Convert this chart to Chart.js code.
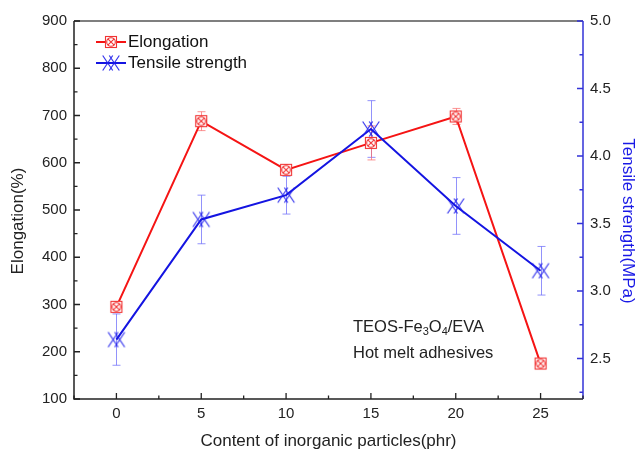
<!DOCTYPE html>
<html>
<head>
<meta charset="utf-8">
<script src="https://cdn.jsdelivr.net/npm/chart.js@4.4.1/dist/chart.umd.min.js"></script>
<style>
  html, body { margin: 0; padding: 0; background: #fff; }
  #wrap { width: 637px; height: 451px; }
</style>
</head>
<body>
<div id="wrap"><canvas id="myChart" width="637" height="451"></canvas></div>
<script>
// filler content (phr) and measured properties
const content = [0, 5, 10, 15, 20, 25];
const elongation = [295, 688, 585, 642, 698, 175];
const elongationErr = [6, 20, 9, 36, 17, 6];
const tensile = [2.64, 3.53, 3.71, 4.20, 3.63, 3.15];
const tensileErr = [0.19, 0.18, 0.14, 0.21, 0.21, 0.18];

// axis ticks
const xTicks = [0, 5, 10, 15, 20, 25];
const leftTicks = [100, 200, 300, 400, 500, 600, 700, 800, 900];
const rightTicks = [2.5, 3.0, 3.5, 4.0, 4.5, 5.0];

const RED = 'rgb(245,20,20)';
const BLUE = 'rgb(20,20,225)';
const FONT = '"Liberation Sans", Arial, sans-serif';

function squareMarker(color) {
  const c = document.createElement('canvas');
  c.width = 16; c.height = 16;
  const g = c.getContext('2d');
  g.fillStyle = '#fff';
  g.fillRect(2, 2, 12, 12);
  g.strokeStyle = color;
  g.lineWidth = 1.1;
  g.strokeRect(2.5, 2.5, 11, 11);
  g.beginPath(); g.arc(8, 8, 4.3, 0, Math.PI * 2); g.stroke();
  g.beginPath();
  g.moveTo(4.8, 4.8); g.lineTo(11.2, 11.2);
  g.moveTo(11.2, 4.8); g.lineTo(4.8, 11.2);
  g.stroke();
  return c;
}

// two overlapping crosses -> lattice look
function latticeMarker(color) {
  const c = document.createElement('canvas');
  c.width = 22; c.height = 20;
  const g = c.getContext('2d');
  g.strokeStyle = color;
  g.lineWidth = 1.2;
  g.beginPath();
  for (const dx of [-3.3, 3.3]) {
    g.moveTo(11 + dx - 5, 10 - 7.5); g.lineTo(11 + dx + 5, 10 + 7.5);
    g.moveTo(11 + dx + 5, 10 - 7.5); g.lineTo(11 + dx - 5, 10 + 7.5);
  }
  g.stroke();
  return c;
}

const redMarker = squareMarker('rgba(240,30,30,0.9)');
const blueMarker = latticeMarker('rgba(30,30,235,0.9)');

function fixedTicks(list) {
  return function(scale) { scale.ticks = list.map(v => ({ value: v })); };
}

// vertical error bars, drawn under the markers
const errorBars = {
  id: 'errorBars',
  beforeDatasetsDraw(chart) {
    const ctx = chart.ctx;
    chart.data.datasets.forEach((ds, i) => {
      const xs = chart.scales.x;
      const ys = chart.scales[ds.yAxisID];
      ctx.save();
      ctx.strokeStyle = ds.errColor;
      ctx.lineWidth = 1;
      ds.data.forEach((p, j) => {
        const x = Math.round(xs.getPixelForValue(p.x)) + 0.5;
        const y1 = ys.getPixelForValue(p.y + ds.err[j]);
        const y2 = ys.getPixelForValue(p.y - ds.err[j]);
        ctx.beginPath();
        ctx.moveTo(x, y1); ctx.lineTo(x, y2);
        ctx.moveTo(x - 4, y1); ctx.lineTo(x + 4, y1);
        ctx.moveTo(x - 4, y2); ctx.lineTo(x + 4, y2);
        ctx.stroke();
      });
      ctx.restore();
    });
  }
};

// box frame with inward major/minor ticks
function minorValues(list, min, max) {
  const step = list[1] - list[0];
  const out = [];
  for (let v = list[0] - step / 2; v <= max + 1e-9; v += step) {
    if (v >= min - 1e-9) out.push(v);
  }
  return out;
}

const axisFrame = {
  id: 'axisFrame',
  afterDatasetsDraw(chart) {
    const { ctx, chartArea: a, scales } = chart;
    ctx.save();
    ctx.lineWidth = 1.5;
    // top
    ctx.strokeStyle = '#555';
    ctx.beginPath(); ctx.moveTo(a.left, a.top); ctx.lineTo(a.right, a.top); ctx.stroke();
    // left + bottom
    ctx.strokeStyle = '#222';
    ctx.beginPath(); ctx.moveTo(a.left, a.top); ctx.lineTo(a.left, a.bottom); ctx.lineTo(a.right, a.bottom); ctx.stroke();
    // right (blue axis)
    ctx.strokeStyle = 'rgb(50,50,215)';
    ctx.beginPath(); ctx.moveTo(a.right, a.top); ctx.lineTo(a.right, a.bottom); ctx.stroke();

    ctx.lineWidth = 1.3;
    ctx.strokeStyle = '#222';
    ctx.beginPath();
    leftTicks.forEach(v => { const y = scales.y.getPixelForValue(v); ctx.moveTo(a.left, y); ctx.lineTo(a.left + 6, y); });
    minorValues(leftTicks, scales.y.min, scales.y.max).forEach(v => { const y = scales.y.getPixelForValue(v); ctx.moveTo(a.left, y); ctx.lineTo(a.left + 3.5, y); });
    xTicks.forEach(v => { const x = scales.x.getPixelForValue(v); ctx.moveTo(x, a.bottom); ctx.lineTo(x, a.bottom - 6); });
    minorValues(xTicks, scales.x.min, scales.x.max).forEach(v => { const x = scales.x.getPixelForValue(v); ctx.moveTo(x, a.bottom); ctx.lineTo(x, a.bottom - 3.5); });
    ctx.stroke();

    ctx.strokeStyle = 'rgb(50,50,215)';
    ctx.beginPath();
    rightTicks.forEach(v => { const y = scales.y1.getPixelForValue(v); ctx.moveTo(a.right, y); ctx.lineTo(a.right - 6, y); });
    minorValues(rightTicks, scales.y1.min, scales.y1.max).forEach(v => { const y = scales.y1.getPixelForValue(v); ctx.moveTo(a.right, y); ctx.lineTo(a.right - 3.5, y); });
    ctx.stroke();
    ctx.restore();
  }
};

// axis titles, legend and the sample note
const labels = {
  id: 'labels',
  afterDraw(chart) {
    const { ctx, chartArea: a } = chart;
    ctx.save();
    ctx.textBaseline = 'middle';
    ctx.textAlign = 'center';

    ctx.fillStyle = '#222';
    ctx.font = '17px ' + FONT;
    ctx.fillText('Content of inorganic particles(phr)', (a.left + a.right) / 2, 441);

    ctx.save();
    ctx.translate(18, 221);
    ctx.rotate(-Math.PI / 2);
    ctx.fillText('Elongation(%)', 0, 0);
    ctx.restore();

    ctx.save();
    ctx.fillStyle = 'rgb(25,25,230)';
    ctx.translate(628, 221);
    ctx.rotate(Math.PI / 2);
    ctx.fillText('Tensile strength(MPa)', 0, 0);
    ctx.restore();

    // legend
    ctx.textAlign = 'left';
    ctx.font = '17px ' + FONT;
    const rows = [
      { ds: chart.data.datasets[1], y: 42 },
      { ds: chart.data.datasets[0], y: 63 }
    ];
    rows.forEach(r => {
      ctx.strokeStyle = r.ds.borderColor;
      ctx.lineWidth = 2;
      ctx.beginPath(); ctx.moveTo(96, r.y); ctx.lineTo(126, r.y); ctx.stroke();
      const m = r.ds.pointStyle;
      ctx.drawImage(m, 111 - m.width / 2, r.y - m.height / 2);
      ctx.fillStyle = '#111';
      ctx.fillText(r.ds.label, 128, r.y);
    });

    // sample note with subscripts
    ctx.fillStyle = '#222';
    const big = '16.5px ' + FONT, small = '11px ' + FONT;
    let x = 353;
    const y = 327;
    const parts = [['TEOS-Fe', big, 0], ['3', small, 5], ['O', big, 0], ['4', small, 5], ['/EVA', big, 0]];
    parts.forEach(p => {
      ctx.font = p[1];
      ctx.fillText(p[0], x, y + p[2]);
      x += ctx.measureText(p[0]).width;
    });
    ctx.font = big;
    ctx.fillText('Hot melt adhesives', 353, 353);
    ctx.restore();
  }
};

const tickFont = { size: 15, family: FONT };

const ctx = document.getElementById('myChart').getContext('2d');
new Chart(ctx, {
  type: 'line',
  data: {
    datasets: [
      {
        label: 'Tensile strength',
        yAxisID: 'y1',
        order: 0,
        data: content.map((c, i) => ({ x: c, y: tensile[i] })),
        err: tensileErr,
        errColor: 'rgba(110,110,250,0.75)',
        borderColor: BLUE,
        borderWidth: 2,
        pointStyle: blueMarker,
        pointRadius: 8,
        tension: 0
      },
      {
        label: 'Elongation',
        yAxisID: 'y',
        order: 1,
        data: content.map((c, i) => ({ x: c, y: elongation[i] })),
        err: elongationErr,
        errColor: 'rgba(250,110,110,0.75)',
        borderColor: RED,
        borderWidth: 2,
        pointStyle: redMarker,
        pointRadius: 7,
        tension: 0
      }
    ]
  },
  options: {
    responsive: false,
    animation: false,
    devicePixelRatio: 1,
    layout: { padding: { top: 21, left: 0, right: 0, bottom: 0 } },
    plugins: { legend: { display: false }, tooltip: { enabled: false } },
    scales: {
      x: {
        type: 'linear',
        position: 'bottom',
        min: -2.5,
        max: 27.5,
        afterBuildTicks: fixedTicks(xTicks),
        afterFit(s) { s.height = 52; },
        grid: { display: false, drawTicks: false },
        border: { display: false },
        ticks: { padding: 6, color: '#222', font: tickFont }
      },
      y: {
        type: 'linear',
        position: 'left',
        min: 100,
        max: 900,
        afterBuildTicks: fixedTicks(leftTicks),
        afterFit(s) { s.width = 74; },
        grid: { display: false, drawTicks: false },
        border: { display: false },
        ticks: { padding: 7, color: '#222', font: tickFont }
      },
      y1: {
        type: 'linear',
        position: 'right',
        min: 2.2,
        max: 5.0,
        afterBuildTicks: fixedTicks(rightTicks),
        afterFit(s) { s.width = 54; },
        grid: { display: false, drawTicks: false },
        border: { display: false },
        ticks: {
          padding: 7, color: '#222', font: tickFont,
          callback: v => v.toFixed(1)
        }
      }
    }
  },
  plugins: [errorBars, axisFrame, labels]
});
</script>
</body>
</html>
